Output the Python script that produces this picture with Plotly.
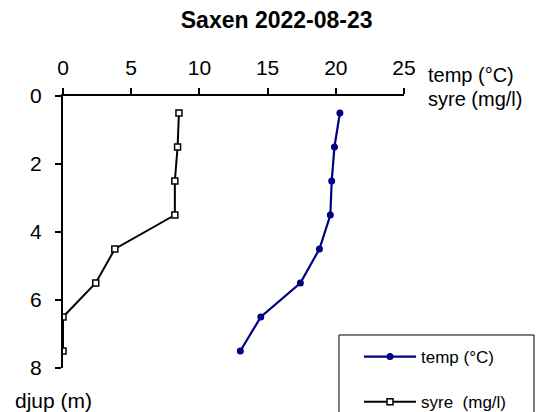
import plotly.graph_objects as go

# Depth profile, Saxen 2022-08-23
depth = [0.5, 1.5, 2.5, 3.5, 4.5, 5.5, 6.5, 7.5]          # djup (m)
temp = [20.3, 19.9, 19.7, 19.6, 18.8, 17.4, 14.5, 13.0]  # temp (°C)
syre = [8.5, 8.4, 8.2, 8.2, 3.8, 2.4, 0.0, 0.0]          # syre (mg/l)

x_ticks = [0, 5, 10, 15, 20, 25]
y_ticks = [0, 2, 4, 6, 8]

W, H = 537, 412
L, R, T, B = 63, 133, 96, 44
PW, PH = W - L - R, H - T - B


def px_x(p):
    """pixel column -> paper x"""
    return (p - L) / PW


def px_y(p):
    """pixel row -> paper y"""
    return (H - B - p) / PH


FONT = "Liberation Sans, Arial, sans-serif"

fig = go.Figure()
fig.add_trace(go.Scatter(
    x=temp, y=depth, name="temp (°C)", mode="lines+markers",
    line=dict(color="#000080", width=2.2),
    marker=dict(symbol="circle", size=7, color="#000080"),
    legendgroup="t",
))
fig.add_trace(go.Scatter(
    x=syre, y=depth, name="syre  (mg/l)", mode="lines+markers",
    line=dict(color="black", width=2),
    marker=dict(symbol="square", size=6, color="white",
                line=dict(color="black", width=1.5)),
    legendgroup="s",
))

axis_common = dict(
    showline=True, linecolor="black", linewidth=2,
    ticks="outside", ticklen=6, tickwidth=2, tickcolor="black",
    showgrid=False, zeroline=False,
    tickfont=dict(family=FONT, size=21, color="black"),
)

fig.update_xaxes(side="top", range=[0, 25], tickvals=x_ticks,
                 ticklabelstandoff=5, **axis_common)
fig.update_yaxes(range=[8, 0], tickvals=y_ticks,
                 ticklabelstandoff=9, **axis_common)

fig.update_layout(
    width=W, height=H,
    margin=dict(l=L, r=R, t=T, b=B, pad=0, autoexpand=False),
    paper_bgcolor="white", plot_bgcolor="white",
    title=dict(text="<b>Saxen 2022-08-23</b>", xref="container",
               x=276.7 / W, xanchor="center", yref="container",
               y=1 - 20 / H, yanchor="middle",
               font=dict(family=FONT, size=23, color="black")),
    showlegend=True,
    legend=dict(
        x=px_x(359), y=px_y(339), xanchor="left", yanchor="top",
        bgcolor="rgba(0,0,0,0)", borderwidth=0,
        font=dict(family=FONT, size=17, color="black"),
        itemwidth=52, traceorder="grouped", tracegroupgap=20,
    ),
    shapes=[dict(
        type="rect", xref="paper", yref="paper",
        x0=px_x(339), x1=px_x(534), y0=px_y(430), y1=px_y(335),
        line=dict(color="black", width=1), fillcolor="rgba(0,0,0,0)",
        layer="below",
    )],
    annotations=[
        dict(text="temp (°C)", xref="paper", yref="paper",
             x=px_x(426), y=px_y(75), xanchor="left", yanchor="middle",
             showarrow=False, font=dict(family=FONT, size=20, color="black")),
        dict(text="syre (mg/l)", xref="paper", yref="paper",
             x=px_x(426), y=px_y(99), xanchor="left", yanchor="middle",
             showarrow=False, font=dict(family=FONT, size=20, color="black")),
        dict(text="djup (m)", xref="paper", yref="paper",
             x=px_x(13), y=px_y(400), xanchor="left", yanchor="middle",
             showarrow=False, font=dict(family=FONT, size=21, color="black")),
    ],
)

fig.write_html("out.html")
